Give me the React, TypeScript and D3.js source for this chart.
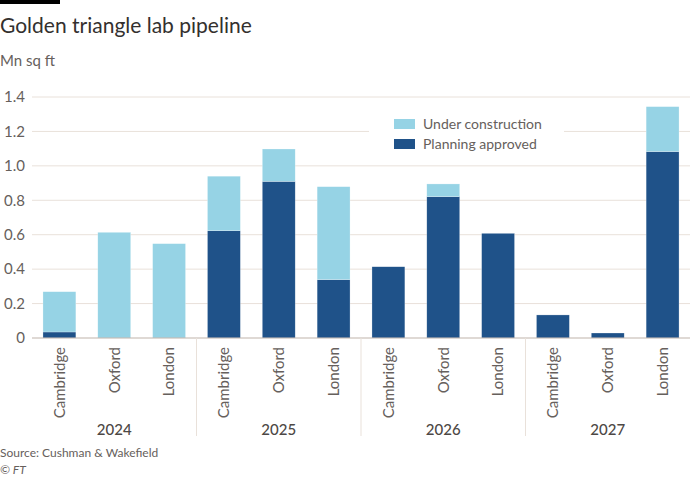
import React from "react";
import * as d3 from "d3";

const years = ["2024", "2025", "2026", "2027"];
const cities = ["Cambridge", "Oxford", "London"];
// per bar (year x city order)
const planningApproved = [0.035, 0, 0, 0.623, 0.91, 0.339, 0.414, 0.821, 0.608, 0.134, 0.029, 1.083];
const underConstruction = [0.234, 0.614, 0.548, 0.317, 0.188, 0.54, 0, 0.074, 0, 0, 0, 0.261];
const yTicks = [0, 0.2, 0.4, 0.6, 0.8, 1.0, 1.2, 1.4];

const W = 700;
const H = 479;
const FONT = "Lato, 'Open Sans', sans-serif";
const LIGHT = "#96d3e5";
const DARK = "#1f5289";

export default function App() {
  const bars = years.flatMap((y, yi) =>
    cities.map((c, ci) => {
      const i = yi * cities.length + ci;
      return { key: `${y}-${c}`, year: y, city: c, pa: planningApproved[i], uc: underConstruction[i] };
    })
  );
  const left = 32;
  const right = 690;
  const x = d3.scaleBand<string>().domain(bars.map((b) => b.key)).range([left, right]).paddingInner(0.4).paddingOuter(0.2);
  const y = d3.scaleLinear().domain([0, 1.4]).range([338, 97]);
  const step = x.step();

  const separators = years.slice(1).map((yr) => {
    const k = `${yr}-${cities[0]}`;
    return (x(k) as number) - (step * 0.4) / 2;
  });

  return (
    <svg width={W} height={H} style={{ position: "absolute", left: 0, top: 0, fontFamily: FONT }}>
      <rect x={0} y={0} width={W} height={H} fill="#fff" />
      <rect x={0} y={0} width={60} height={4} fill="#000" />
      <text x={0} y={33} fontSize={21} fill="#33302e">Golden triangle lab pipeline</text>
      <text x={0} y={66} fontSize={15} fill="#66605c">Mn sq ft</text>

      {yTicks.map((t) => (
        <g key={t}>
          {t !== 0 && <line x1={left} x2={right} y1={y(t)} y2={y(t)} stroke="#e9e1da" strokeWidth={1} />}
          <text x={25} y={y(t)} dy="0.35em" textAnchor="end" fontSize={15} fill="#66605c">
            {t === 0 ? "0" : t.toFixed(1)}
          </text>
        </g>
      ))}

      {/* legend background */}
      <rect x={369} y={112} width={195} height={44} fill="#fff" />
      <rect x={394} y={119} width={21} height={10} fill={LIGHT} />
      <text x={423} y={124} dy="0.35em" fontSize={14} fill="#66605c">Under construction</text>
      <rect x={394} y={139} width={21} height={10} fill={DARK} />
      <text x={423} y={144} dy="0.35em" fontSize={14} fill="#66605c">Planning approved</text>

      {bars.map((b) => {
        const bx = x(b.key) as number;
        const bw = x.bandwidth();
        return (
          <g key={b.key}>
            {b.pa > 0 && (
              <rect x={bx} y={y(b.pa)} width={bw} height={y(0) - y(b.pa)} fill={DARK} stroke="#ffffff" strokeOpacity={0.5} strokeWidth={0.5} />
            )}
            {b.uc > 0 && (
              <rect x={bx} y={y(b.pa + b.uc)} width={bw} height={y(b.pa) - y(b.pa + b.uc)} fill={LIGHT} stroke="#ffffff" strokeOpacity={0.5} strokeWidth={0.5} />
            )}
          </g>
        );
      })}

      <line x1={left} x2={right} y1={y(0)} y2={y(0)} stroke="#bfb3aa" strokeWidth={1} />

      {separators.map((sx, i) => (
        <line key={i} x1={sx} x2={sx} y1={y(0)} y2={436} stroke="#e9e1da" strokeWidth={1} />
      ))}

      {bars.map((b) => {
        const cx = (x(b.key) as number) + x.bandwidth() / 2;
        return (
          <text key={b.key} transform={`translate(${cx},347) rotate(-90)`} textAnchor="end" dy="0.35em" fontSize={15} fill="#66605c">
            {b.city}
          </text>
        );
      })}

      {years.map((yr) => {
        const a = x(`${yr}-${cities[0]}`) as number;
        const e = (x(`${yr}-${cities[cities.length - 1]}`) as number) + x.bandwidth();
        return (
          <text key={yr} x={(a + e) / 2} y={430} dy="0.35em" textAnchor="middle" fontSize={15} fontWeight={500} fill="#4d4845">
            {yr}
          </text>
        );
      })}

      <text x={0} y={457} fontSize={12} fill="#66605c">Source: Cushman &amp; Wakefield</text>
      <text x={0} y={474} fontSize={12} fontStyle="italic" fill="#66605c">© FT</text>
    </svg>
  );
}
